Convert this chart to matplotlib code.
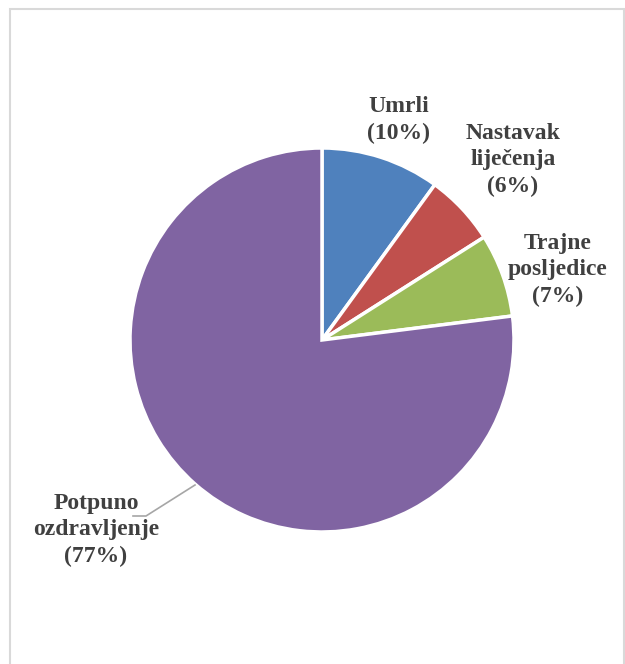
import matplotlib
matplotlib.use("Agg")
import matplotlib.pyplot as plt
from matplotlib.patches import Rectangle

categories = ["Umrli", "Nastavak\nliječenja", "Trajne\nposljedice", "Potpuno\nozdravljenje"]
values = [10, 6, 7, 77]
colors = ["#4f81bd", "#c0504d", "#9bbb59", "#8064a2"]

W, H = 625, 664
fig = plt.figure(figsize=(W / 100, H / 100), dpi=100)
fig.patch.set_facecolor("white")
ax = fig.add_axes([0, 0, 1, 1])

cx, cy, r = 322, H - 340, 192
ax.pie(values, colors=colors, startangle=90, counterclock=False,
       center=(cx, cy), radius=r,
       wedgeprops=dict(edgecolor="white", linewidth=2.5))
ax.set_xlim(0, W)
ax.set_ylim(0, H)
ax.set_aspect("equal")
ax.axis("off")

# chart border
ax.add_patch(Rectangle((10, -5), 614, H - 9 + 5, fill=False,
                       edgecolor="#d9d9d9", linewidth=1.5, clip_on=False))

label_pos = [(399, 120), (513, 160), (558, 270), (96, 530)]
font = dict(family="Liberation Serif", fontweight="bold", fontsize=17,
            color="#404040", ha="center", va="center", linespacing=1.36)
for cat, v, (x, y) in zip(categories, values, label_pos):
    ax.text(x, H - y, f"{cat}\n({v}%)", **font)

# leader line for the big slice
ax.plot([195, 146, 133], [H - 485, H - 516, H - 516], color="#a6a6a6", lw=1.2)

fig.savefig("out.png", dpi=100, facecolor="white")
